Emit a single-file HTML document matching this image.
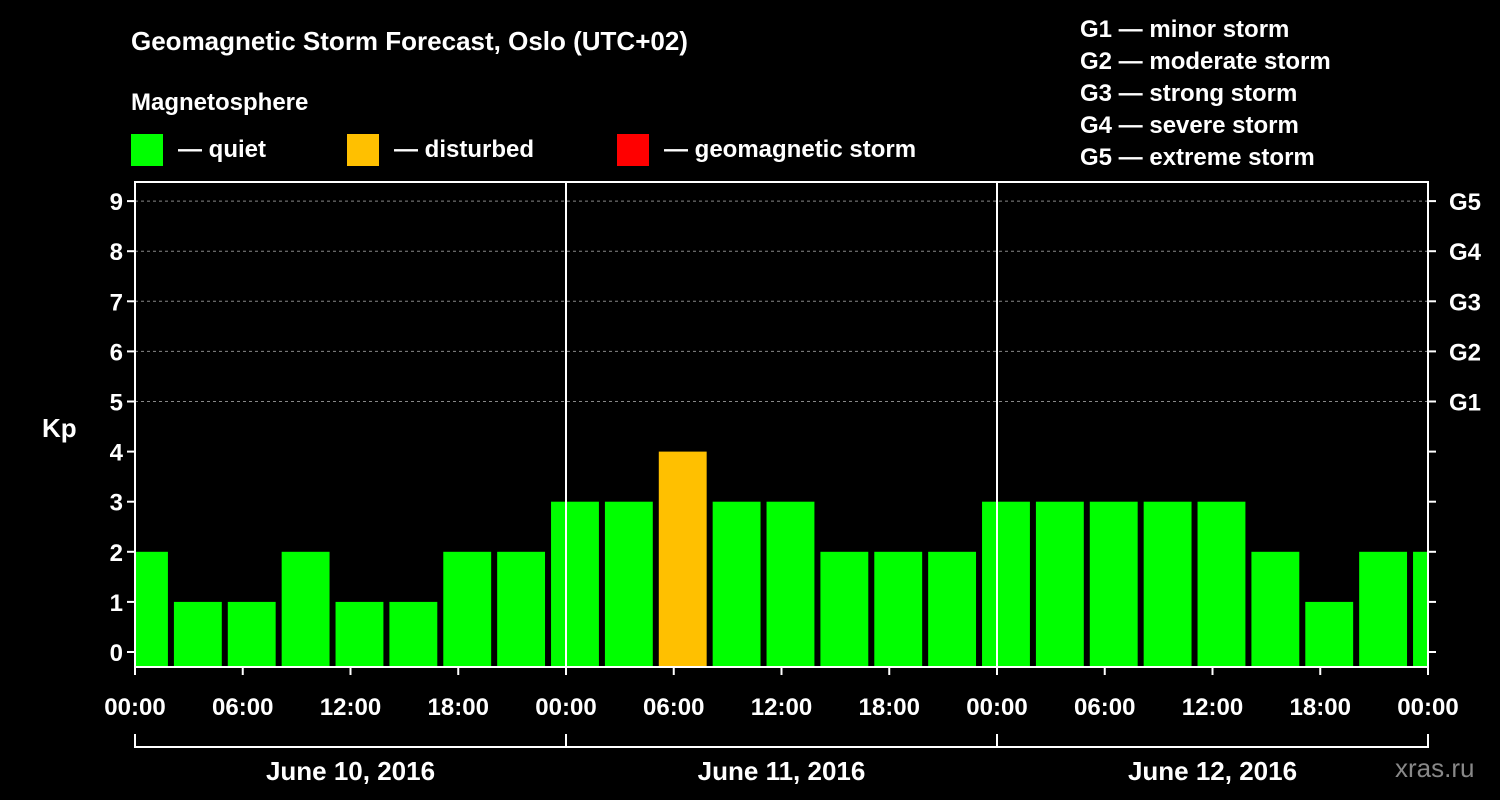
<!DOCTYPE html>
<html><head><meta charset="utf-8"><style>
html,body{margin:0;padding:0;background:#000;}
svg{display:block;font-family:"Liberation Sans",Arial,sans-serif;font-weight:bold;}
</style></head><body>
<svg width="1500" height="800" viewBox="0 0 1500 800">
<text x="131" y="50" fill="#fff" font-size="26">Geomagnetic Storm Forecast, Oslo (UTC+02)</text>
<text x="131" y="110" fill="#fff" font-size="24">Magnetosphere</text>
<g><rect x="131" y="134" width="32" height="32" fill="#00ff00"/><text x="178" y="157" fill="#fff" font-size="24">— quiet</text></g>
<g><rect x="347" y="134" width="32" height="32" fill="#ffc000"/><text x="394" y="157" fill="#fff" font-size="24">— disturbed</text></g>
<g><rect x="617" y="134" width="32" height="32" fill="#ff0000"/><text x="664" y="157" fill="#fff" font-size="24">— geomagnetic storm</text></g>
<g fill="#fff" font-size="24">
<text x="1080" y="37">G1 — minor storm</text>
<text x="1080" y="69">G2 — moderate storm</text>
<text x="1080" y="101">G3 — strong storm</text>
<text x="1080" y="133">G4 — severe storm</text>
<text x="1080" y="165">G5 — extreme storm</text>
</g>
<text x="42" y="437" fill="#fff" font-size="26">Kp</text>
<text x="1395" y="777" fill="#888" font-size="26" font-weight="normal">xras.ru</text>
<g id="plot"></g>
</svg>
<script>
const kpValues=[2,1,1,2,1,1,2,2,3,3,4,3,3,2,2,2,3,3,3,3,3,2,1,2,2];
const barStartHours=[-1,2,5,8,11,14,17,20,23,26,29,32,35,38,41,44,47,50,53,56,59,62,65,68,71];
const yTicks=[0,1,2,3,4,5,6,7,8,9];
const gLabels=["G1","G2","G3","G4","G5"];
const xTickLabels=["00:00","06:00","12:00","18:00","00:00","06:00","12:00","18:00","00:00","06:00","12:00","18:00","00:00"];
const dayLabels=["June 10, 2016","June 11, 2016","June 12, 2016"];
const NS="http://www.w3.org/2000/svg";
const L=135,R=1428,T=182,B=667;
const xs=h=>L+h*(1293/72);
const ys=v=>652-v*50.1;
const g=document.getElementById('plot');
function mk(t,a,parent){const e=document.createElementNS(NS,t);for(const k in a)e.setAttribute(k,a[k]);(parent||g).appendChild(e);return e;}
const clip=mk('clipPath',{id:'pc'});mk('rect',{x:L,y:T,width:R-L,height:B-T},clip);
yTicks.forEach(v=>{if(v>=5){const ln=mk('line',{x1:L,x2:R,y1:ys(v),y2:ys(v),stroke:'#888','stroke-dasharray':'3,3'});

}});
const bars=mk('g',{'clip-path':'url(#pc)'});
kpValues.forEach((v,i)=>{const x0=xs(barStartHours[i])+3,x1=xs(barStartHours[i]+3)-3;
const r=mk('rect',{x:x0,y:ys(v),width:x1-x0,height:B-ys(v),fill:v>=5?'#ff0000':v>=4?'#ffc000':'#00ff00'},bars);

});
[24,48].forEach(h=>{mk('line',{x1:xs(h),x2:xs(h),y1:T,y2:B,stroke:'#fff','stroke-width':2});});
const frame=mk('rect',{x:L,y:T,width:R-L,height:B-T,fill:'none',stroke:'#fff','stroke-width':2});


yTicks.forEach(v=>{const y=ys(v);mk('line',{x1:L-8,x2:L,y1:y,y2:y,stroke:'#fff','stroke-width':2});
mk('line',{x1:R,x2:R+8,y1:y,y2:y,stroke:'#fff','stroke-width':2});
const t=mk('text',{x:L-12,y:y+9,fill:'#fff','font-size':24,'text-anchor':'end'});t.textContent=v;


if(v>=5){const gt=mk('text',{x:1449,y:y+9,fill:'#fff','font-size':24});gt.textContent=gLabels[v-5];

}});
xTickLabels.forEach((s,i)=>{const x=xs(i*6);mk('line',{x1:x,x2:x,y1:B,y2:B+8,stroke:'#fff','stroke-width':2});
const t=mk('text',{x:x,y:715,fill:'#fff','font-size':24,'text-anchor':'middle'});t.textContent=s;

});
mk('line',{x1:L,x2:R,y1:747,y2:747,stroke:'#fff','stroke-width':2});
[0,24,48,72].forEach(h=>mk('line',{x1:xs(h),x2:xs(h),y1:734,y2:748,stroke:'#fff','stroke-width':2}));
dayLabels.forEach((s,i)=>{const t=mk('text',{x:xs(i*24+12),y:780,fill:'#fff','font-size':26,'text-anchor':'middle'});t.textContent=s;

});
</script>
</body></html>
